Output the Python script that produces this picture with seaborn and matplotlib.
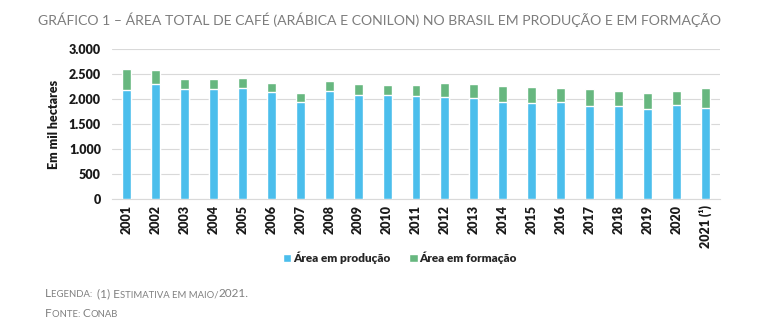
import matplotlib
matplotlib.use("Agg")
import matplotlib.pyplot as plt
import seaborn as sns
import pandas as pd

years = ["2001", "2002", "2003", "2004", "2005", "2006", "2007", "2008", "2009", "2010",
         "2011", "2012", "2013", "2014", "2015", "2016", "2017", "2018", "2019", "2020",
         "2021 (¹)"]
producao = [2173, 2306, 2200, 2206, 2220, 2146, 1940, 2166, 2080, 2073,
            2053, 2040, 2020, 1946, 1920, 1946, 1860, 1860, 1806, 1880, 1820]
total = [2606, 2586, 2400, 2406, 2426, 2313, 2126, 2353, 2306, 2286,
         2273, 2326, 2306, 2253, 2246, 2220, 2200, 2153, 2126, 2153, 2213]
formacao = [t - p for t, p in zip(total, producao)]

ytick_vals = [0, 500, 1000, 1500, 2000, 2500, 3000]
ytick_labels = ["0", "500", "1.000", "1.500", "2.000", "2.500", "3.000"]

df = pd.DataFrame({"ano": years, "producao": producao, "formacao": formacao})
df["total"] = df["producao"] + df["formacao"]

sns.set_theme(style="white")
plt.rcParams["font.family"] = ["Lato", "DejaVu Sans"]

BLUE = "#4BBEEC"
GREEN = "#67B77F"
DARK = "#1A1A1A"
HEAVY = "heavy"

fig = plt.figure(figsize=(7.73, 3.33), dpi=100)
ax = fig.add_axes([112 / 773, 1 - 199 / 333, (720 - 112) / 773, 150 / 333])

sns.barplot(data=df, x="ano", y="total", color=GREEN, width=0.31, ax=ax,
            saturation=1, label="Área em formação", zorder=2)
sns.barplot(data=df, x="ano", y="producao", color=BLUE, width=0.31, ax=ax,
            saturation=1, label="Área em produção", zorder=3)

ax.set_ylim(0, 3000)
ax.set_xlim(-0.5, len(years) - 0.5)
ax.set_yticks(ytick_vals)
ax.set_yticklabels(ytick_labels, fontsize=9, fontweight=HEAVY, color=DARK)
ax.set_xticks(range(len(years)))
ax.set_xticklabels(years, rotation=90, fontsize=9, fontweight=HEAVY, color=DARK)
ax.tick_params(axis="both", length=0, pad=8)
ax.tick_params(axis="x", pad=4)
ax.yaxis.grid(True, color="#D9D9D9", linewidth=0.8, zorder=0)
ax.set_axisbelow(True)
for s in ["top", "right", "left"]:
    ax.spines[s].set_visible(False)
ax.spines["bottom"].set_color("#D9D9D9")
ax.spines["bottom"].set_linewidth(0.8)
ax.set_xlabel("")
ax.set_ylabel("Em mil hectares", fontsize=9, fontweight=HEAVY, color=DARK, labelpad=6)

handles, labels = ax.get_legend_handles_labels()
order = [labels.index("Área em produção"), labels.index("Área em formação")]
ax.legend([handles[i] for i in order], [labels[i] for i in order],
          loc="center", bbox_to_anchor=(400 / 773, 1 - 258 / 333),
          bbox_transform=fig.transFigure, ncol=2, frameon=False,
          prop={"family": ["Lato", "DejaVu Sans"], "weight": HEAVY, "size": 8.5},
          handlelength=0.7, handleheight=0.7, handletextpad=0.15, columnspacing=1.6)

fig.text(380 / 773, 1 - 20 / 333,
         "GRÁFICO 1 – ÁREA TOTAL DE CAFÉ (ARÁBICA E CONILON) NO BRASIL EM PRODUÇÃO E EM FORMAÇÃO",
         ha="center", va="center", fontsize=10.1, color="#7C7C7C", fontweight="normal")


def small_caps(x_px, y_px, text, big=8.5, small=6.8, color="#808080"):
    fig.canvas.draw()
    r = fig.canvas.get_renderer()
    x = x_px / 773
    y = 1 - y_px / 333
    runs = []
    for ch in text:
        if ch.isupper() or ch.isdigit() or ch in "()":
            kind = "big"
        elif ch.islower():
            kind = "small"
        else:
            kind = runs[-1][0] if runs else "big"
        if runs and runs[-1][0] == kind:
            runs[-1][1] += ch
        else:
            runs.append([kind, ch])
    for kind, s in runs:
        size = big if kind == "big" else small
        t = fig.text(x, y, s.upper(), fontsize=size, color=color,
                     ha="left", va="baseline")
        bb = t.get_window_extent(renderer=r)
        x += bb.width / fig.bbox.width


small_caps(45, 297, "Legenda:  (1) Estimativa em maio/2021.")
small_caps(45, 317, "Fonte: Conab")

fig.savefig("out.png", dpi=100)
